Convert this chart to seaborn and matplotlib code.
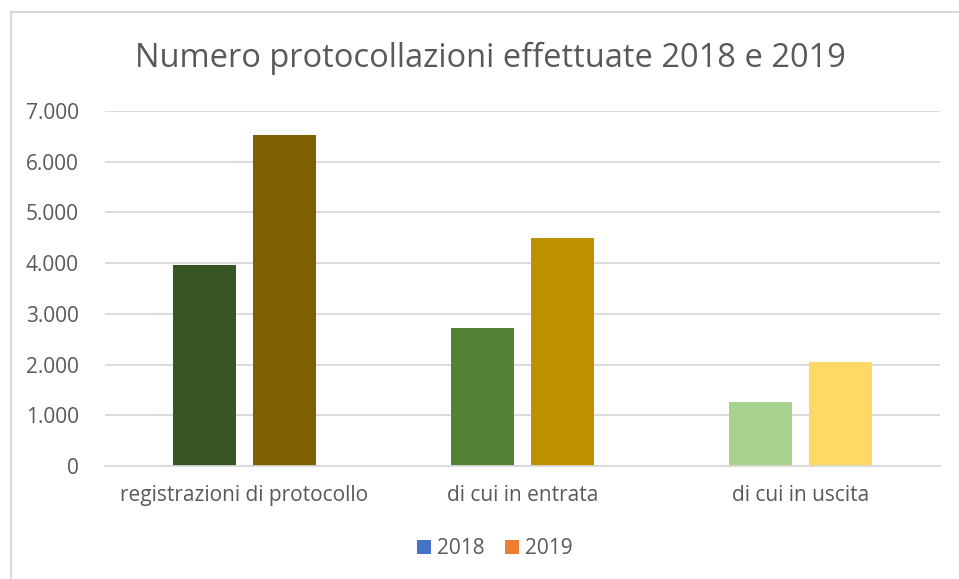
import matplotlib
matplotlib.use("Agg")
import matplotlib.pyplot as plt
import matplotlib.ticker as mticker
from matplotlib.patches import Patch
from matplotlib.lines import Line2D
import seaborn as sns
import pandas as pd

categories = ["registrazioni di protocollo", "di cui in entrata", "di cui in uscita"]
years = ["2018", "2019"]
values_2018 = [3960, 2720, 1260]
values_2019 = [6530, 4500, 2050]

colors_2018 = ["#375623", "#548235", "#A9D18E"]
colors_2019 = ["#7F6000", "#BF9000", "#FFD966"]
legend_colors = ["#4472C4", "#ED7D31"]

df = pd.DataFrame({
    "categoria": categories * 2,
    "anno": ["2018"] * 3 + ["2019"] * 3,
    "valore": values_2018 + values_2019,
})

sns.set_style("white")
plt.rcParams["font.family"] = ["Open Sans", "DejaVu Sans"]
text_col = "#595959"

fig = plt.figure(figsize=(9.59, 5.79), dpi=100)
ax = fig.add_axes([105 / 959, (579 - 466) / 579, 835 / 959, 355 / 579])

sns.barplot(data=df, x="categoria", y="valore", hue="anno", order=categories,
            hue_order=years, width=0.573, gap=0.21, ax=ax, legend=False,
            saturation=1)

bars = [p for p in ax.patches if p.get_height() > 0]
bars.sort(key=lambda p: p.get_x())
for i, p in enumerate(bars):
    grp, k = divmod(i, 2)
    p.set_facecolor(colors_2018[grp] if k == 0 else colors_2019[grp])
    p.set_edgecolor("none")

ax.set_xlim(-0.5, 2.5)
ax.set_ylim(0, 7000)
ax.yaxis.set_major_locator(mticker.MultipleLocator(1000))
ax.yaxis.set_major_formatter(mticker.FuncFormatter(
    lambda v, _: f"{int(v):,}".replace(",", ".")))
ax.grid(axis="y", color="#D9D9D9", linewidth=1.3)
ax.set_axisbelow(True)
for s in ["left", "right", "top"]:
    ax.spines[s].set_visible(False)
ax.spines["bottom"].set_color("#D9D9D9")
ax.spines["bottom"].set_linewidth(1.3)
ax.tick_params(axis="both", length=0, labelsize=15, labelcolor=text_col)
ax.tick_params(axis="y", pad=19)
ax.tick_params(axis="x", pad=14)
ax.set_xlabel("")
ax.set_ylabel("")

fig.text(490 / 959, 1 - 58 / 579, "Numero protocollazioni effettuate 2018 e 2019",
         ha="center", va="center", fontsize=23.5, color=text_col)

handles = [Patch(facecolor=c, edgecolor="none") for c in legend_colors]
fig.legend(handles, years, loc="center", bbox_to_anchor=(495 / 959, 1 - 549 / 579),
           ncol=2, frameon=False, fontsize=15, labelcolor=text_col,
           handlelength=0.65, handleheight=0.65, handletextpad=0.3, columnspacing=1.0)

# chart area border (left and top only visible)
fig.add_artist(Line2D([11 / 959, 11 / 959], [0, 1 - 12 / 579], color="#D9D9D9",
                      linewidth=1.5, transform=fig.transFigure))
fig.add_artist(Line2D([11 / 959, 1], [1 - 12 / 579, 1 - 12 / 579], color="#D9D9D9",
                      linewidth=1.5, transform=fig.transFigure))

fig.savefig("out.png", dpi=100, facecolor="white")
